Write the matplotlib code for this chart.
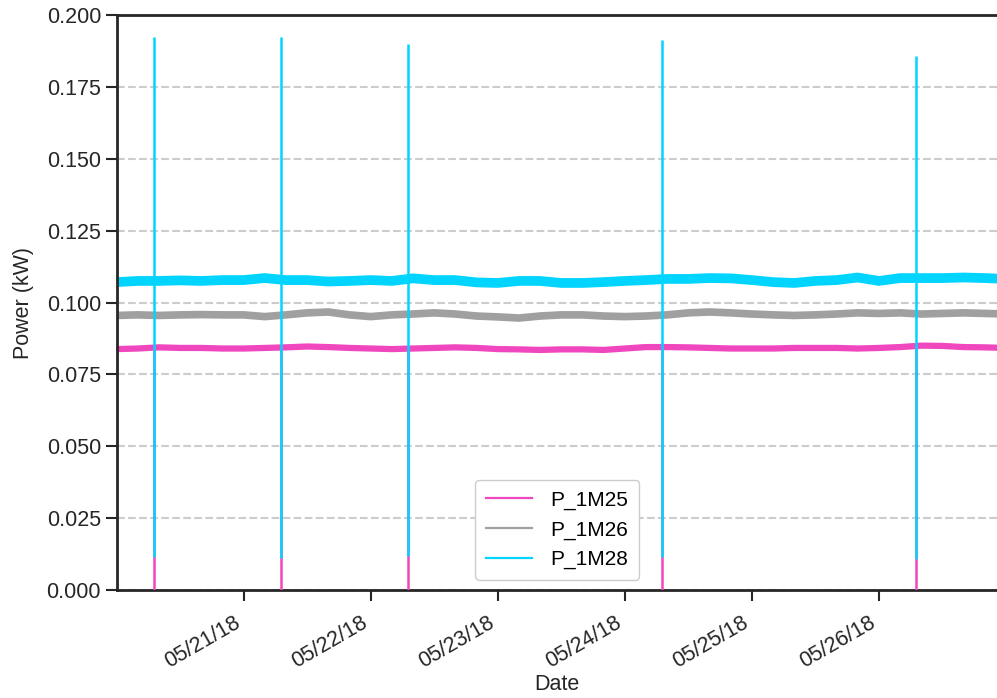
import pandas as pd
import matplotlib.pyplot as plt
import matplotlib.dates as mdates
from matplotlib.lines import Line2D

plt.rcParams["font.family"] = ["Liberation Sans", "DejaVu Sans"]

# 4-hourly levels (kW), 05/20 00:00 -> 05/27 00:00
times = pd.date_range("2018-05-20 00:00", "2018-05-27 00:00", freq="4h")

p_1m25 = [0.0838, 0.0840, 0.0844, 0.0842, 0.0842, 0.0840, 0.0840, 0.0842, 0.0844, 0.0847,
          0.0845, 0.0842, 0.0840, 0.0838, 0.0840, 0.0842, 0.0844, 0.0842, 0.0838, 0.0837,
          0.0835, 0.0837, 0.0837, 0.0835, 0.0840, 0.0845, 0.0845, 0.0844, 0.0842, 0.0840,
          0.0840, 0.0840, 0.0842, 0.0842, 0.0842, 0.0840, 0.0842, 0.0845, 0.0850, 0.0849,
          0.0845, 0.0844, 0.0842]
p_1m26 = [0.0955, 0.0957, 0.0955, 0.0957, 0.0958, 0.0957, 0.0957, 0.0951, 0.0957, 0.0964,
          0.0967, 0.0957, 0.0951, 0.0957, 0.0960, 0.0964, 0.0960, 0.0953, 0.0950, 0.0946,
          0.0953, 0.0957, 0.0957, 0.0953, 0.0951, 0.0953, 0.0957, 0.0964, 0.0967, 0.0964,
          0.0960, 0.0957, 0.0955, 0.0957, 0.0960, 0.0964, 0.0962, 0.0964, 0.0960, 0.0962,
          0.0964, 0.0962, 0.0960]
p_1m28 = [0.1071, 0.1075, 0.1075, 0.1077, 0.1075, 0.1078, 0.1078, 0.1085, 0.1078, 0.1078,
          0.1073, 0.1075, 0.1078, 0.1075, 0.1084, 0.1078, 0.1078, 0.1070, 0.1068, 0.1075,
          0.1075, 0.1068, 0.1068, 0.1071, 0.1075, 0.1078, 0.1082, 0.1082, 0.1085, 0.1084,
          0.1078, 0.1071, 0.1068, 0.1075, 0.1078, 0.1087, 0.1075, 0.1085, 0.1085, 0.1085,
          0.1087, 0.1085, 0.1082]

# short events around 07:00 : P_1M28 peaks, P_1M25 drops to zero
spike_times = pd.to_datetime(["2018-05-20 07:00", "2018-05-21 07:00", "2018-05-22 07:00",
                              "2018-05-24 07:00", "2018-05-26 07:00"])
spike_peak = [0.1923, 0.1923, 0.1899, 0.1913, 0.1857]
spike_low = [0.0115, 0.0112, 0.0120, 0.0115, 0.0108]
spike_base = [0.0842, 0.0842, 0.0840, 0.0840, 0.0842]

labels = ["P_1M25", "P_1M26", "P_1M28"]
colors = ["#F046BE", "#A0A0A0", "#00D4FF"]

fig = plt.figure(figsize=(9.97, 6.98), dpi=100)
ax = fig.add_axes([0.1174, 0.1547, 0.8826, 0.8238])

ax.yaxis.grid(True, linestyle="--", color="#cccccc", linewidth=1.5, zorder=0)
ax.set_axisbelow(True)

widths = [4.5, 5.5, 7.0]
for vals, c, lw in zip([p_1m25, p_1m26, p_1m28], colors, widths):
    ax.plot(times, vals, color=c, linewidth=lw, solid_capstyle="butt", zorder=2)

ax.vlines(spike_times, 0, spike_base, color=colors[0], linewidth=1.8, zorder=3)
ax.vlines(spike_times, spike_low, spike_peak, color=colors[2], linewidth=1.8, zorder=4)

ax.set_xlim(pd.Timestamp("2018-05-20 00:06"), pd.Timestamp("2018-05-26 22:18"))
ax.set_ylim(0, 0.2)
ax.set_yticks([0, 0.025, 0.05, 0.075, 0.1, 0.125, 0.15, 0.175, 0.2])
ax.yaxis.set_major_formatter(plt.FormatStrFormatter("%.3f"))
ax.xaxis.set_major_locator(mdates.DayLocator())
ax.xaxis.set_major_formatter(mdates.DateFormatter("%m/%d/%y"))
plt.setp(ax.get_xticklabels(), rotation=30, ha="right")

ax.tick_params(labelsize=15.5, length=8, width=1.5, color="#262626", labelcolor="#262626")
ax.tick_params(axis="x", pad=8)
ax.set_xlabel("Date", fontsize=15.5, color="#262626", labelpad=1)
ax.set_ylabel("Power (kW)", fontsize=15.5, color="#262626", labelpad=9)

for side in ["left", "bottom", "top"]:
    ax.spines[side].set_linewidth(2)
    ax.spines[side].set_color("#262626")
ax.spines["right"].set_visible(False)

handles = [Line2D([], [], color=c, linewidth=1.6) for c in colors]
ax.legend(handles, labels, loc="lower center", fontsize=15, handlelength=2.2,
          borderpad=0.5, handletextpad=0.9, frameon=True, edgecolor="#cccccc",
          framealpha=1.0, bbox_to_anchor=(0.5, 0.0))

fig.savefig("out.png", dpi=100)
plt.close(fig)
